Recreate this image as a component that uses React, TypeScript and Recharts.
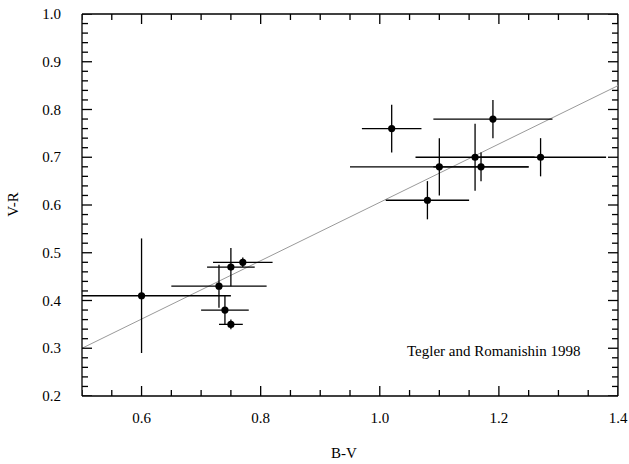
import React from 'react';
import { ScatterChart, Scatter, XAxis, YAxis, ErrorBar, ReferenceLine } from 'recharts';

// B-V colour, V-R colour and their errors
const bv = [0.6, 0.73, 0.74, 0.75, 0.75, 0.77, 1.02, 1.08, 1.1, 1.16, 1.17, 1.19, 1.27];
const vr = [0.41, 0.43, 0.38, 0.35, 0.47, 0.48, 0.76, 0.61, 0.68, 0.7, 0.68, 0.78, 0.7];
// lower / upper B-V errors (first one runs into the left edge of the plot)
const bvErrLow = [0.1, 0.08, 0.04, 0.02, 0.04, 0.05, 0.05, 0.07, 0.15, 0.1, 0.08, 0.1, 0.11];
const bvErrHigh = [0.15, 0.08, 0.04, 0.02, 0.04, 0.05, 0.05, 0.07, 0.15, 0.1, 0.08, 0.1, 0.11];
const vrErr = [0.12, 0.045, 0.03, 0.01, 0.04, 0.01, 0.05, 0.04, 0.06, 0.07, 0.03, 0.04, 0.04];

// fitted line end points
const fitStart = { x: 0.5, y: 0.3 };
const fitEnd = { x: 1.4, y: 0.85 };

const xTicks = [0.5, 0.55, 0.6, 0.65, 0.7, 0.75, 0.8, 0.85, 0.9, 0.95, 1.0, 1.05, 1.1, 1.15, 1.2, 1.25, 1.3, 1.35, 1.4];
const xLabels = [0.6, 0.8, 1.0, 1.2, 1.4];
const yTicks = [
  0.2, 0.22, 0.24, 0.26, 0.28, 0.3, 0.32, 0.34, 0.36, 0.38, 0.4, 0.42, 0.44, 0.46, 0.48, 0.5, 0.52, 0.54, 0.56, 0.58,
  0.6, 0.62, 0.64, 0.66, 0.68, 0.7, 0.72, 0.74, 0.76, 0.78, 0.8, 0.82, 0.84, 0.86, 0.88, 0.9, 0.92, 0.94, 0.96, 0.98, 1.0,
];
const yLabels = [0.2, 0.3, 0.4, 0.5, 0.6, 0.7, 0.8, 0.9, 1.0];

const points = bv.map((x, i) => ({ x, y: vr[i], ex: [bvErrLow[i], bvErrHigh[i]], ey: vrErr[i] }));

const X_MIN = 0.5;
const X_MAX = 1.4;
const Y_MIN = 0.2;
const Y_MAX = 1.0;

const FONT = 'Liberation Serif';
const MAJOR = 10;
const MINOR = 6;
const TICK_W = 1.3;

const inList = (list: number[], v: number) => list.some((t) => Math.abs(t - v) < 1e-6);

// one entry per tick mark on the four edges of the frame
const tickMarks: { x: number; y: number; dir: string; len: number }[] = [];
xTicks.forEach((v) => {
  const len = inList(xLabels, v) ? MAJOR : MINOR;
  tickMarks.push({ x: v, y: Y_MIN, dir: 'up', len });
  tickMarks.push({ x: v, y: Y_MAX, dir: 'down', len });
});
yTicks.forEach((v) => {
  const len = inList(yLabels, v) ? MAJOR : MINOR;
  tickMarks.push({ x: X_MIN, y: v, dir: 'right', len });
  tickMarks.push({ x: X_MAX, y: v, dir: 'left', len });
});

function TickMark(props: any) {
  const { cx, cy } = props;
  const p = props.payload || props;
  const len = p.len;
  const h = TICK_W / 2;
  if (p.dir === 'up') return <rect x={cx - h} y={cy - len} width={TICK_W} height={len} fill="#000" />;
  if (p.dir === 'down') return <rect x={cx - h} y={cy} width={TICK_W} height={len} fill="#000" />;
  if (p.dir === 'right') return <rect x={cx} y={cy - h} width={len} height={TICK_W} fill="#000" />;
  return <rect x={cx - len} y={cy - h} width={len} height={TICK_W} fill="#000" />;
}

function BottomLabel(props: any) {
  const { x, y, payload } = props;
  return (
    <text x={x} y={y + 27} textAnchor="middle" fontSize={15} fontFamily={FONT} fill="#000">
      {payload.value.toFixed(1)}
    </text>
  );
}

function LeftLabel(props: any) {
  const { x, y, payload } = props;
  return (
    <text x={x - 21} y={y + 5} textAnchor="end" fontSize={15} fontFamily={FONT} fill="#000">
      {payload.value.toFixed(1)}
    </text>
  );
}

const Dot = (props: any) => <circle cx={props.cx} cy={props.cy} r={3.6} fill="#000" />;

export default function App() {
  return (
    <div style={{ position: 'absolute', left: 0, top: 0, width: 629, height: 464, background: '#fff', fontFamily: FONT }}>
      <ScatterChart width={629} height={464} margin={{ top: 14, right: 11, bottom: 0, left: 0 }}>
        <XAxis
          xAxisId="b"
          type="number"
          dataKey="x"
          domain={[X_MIN, X_MAX]}
          allowDataOverflow
          ticks={xLabels}
          interval={0}
          height={68}
          tickSize={0}
          tickMargin={0}
          tickLine={false}
          tick={<BottomLabel />}
          axisLine={{ stroke: '#000', strokeWidth: 1.3 }}
        />
        <YAxis
          yAxisId="l"
          type="number"
          dataKey="y"
          domain={[Y_MIN, Y_MAX]}
          allowDataOverflow
          ticks={yLabels}
          interval={0}
          width={82}
          tickSize={0}
          tickMargin={0}
          tickLine={false}
          tick={<LeftLabel />}
          axisLine={{ stroke: '#000', strokeWidth: 1.3 }}
        />
        <ReferenceLine xAxisId="b" yAxisId="l" y={Y_MAX} stroke="#000" strokeWidth={1.3} />
        <ReferenceLine xAxisId="b" yAxisId="l" x={X_MAX} stroke="#000" strokeWidth={1.3} />
        <ReferenceLine xAxisId="b" yAxisId="l" segment={[fitStart, fitEnd]} stroke="#9a9a9a" strokeWidth={1} />
        <Scatter xAxisId="b" yAxisId="l" data={tickMarks} shape={<TickMark />} isAnimationActive={false} />
        <Scatter xAxisId="b" yAxisId="l" data={points} shape={<Dot />} isAnimationActive={false}>
          <ErrorBar dataKey="ex" direction="x" width={0} stroke="#000" strokeWidth={1.3} isAnimationActive={false} />
          <ErrorBar dataKey="ey" direction="y" width={0} stroke="#000" strokeWidth={1.3} isAnimationActive={false} />
        </Scatter>
      </ScatterChart>
      <div style={{ position: 'absolute', left: 407, top: 344, fontSize: 15, whiteSpace: 'nowrap', lineHeight: '15px' }}>
        Tegler and Romanishin 1998
      </div>
      <div style={{ position: 'absolute', left: 324, top: 446, width: 40, textAlign: 'center', fontSize: 15, lineHeight: '15px' }}>
        B-V
      </div>
      <div
        style={{
          position: 'absolute',
          left: -7,
          top: 197,
          width: 40,
          textAlign: 'center',
          fontSize: 15,
          lineHeight: '15px',
          transform: 'rotate(-90deg)',
        }}
      >
        V-R
      </div>
    </div>
  );
}
